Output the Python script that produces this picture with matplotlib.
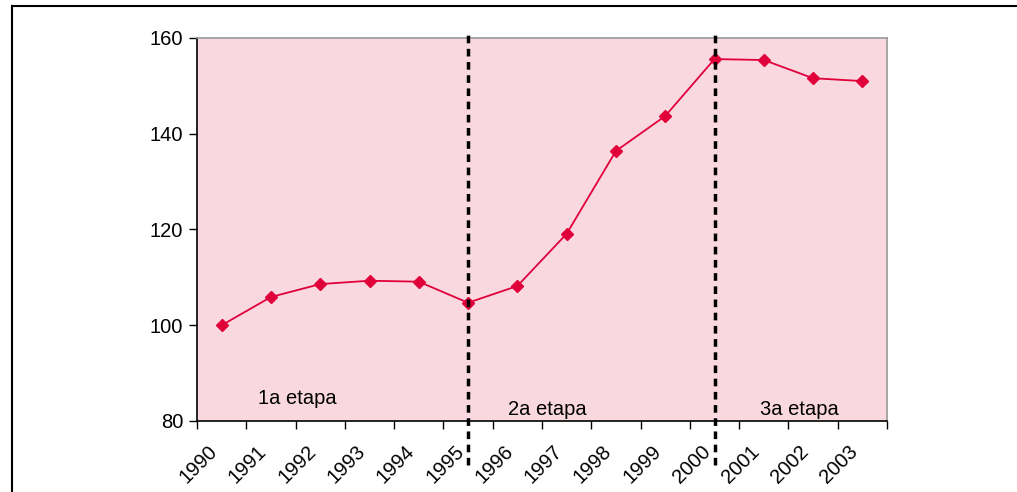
import matplotlib
matplotlib.use("Agg")
import matplotlib.pyplot as plt
from matplotlib.lines import Line2D
import matplotlib.transforms as mtransforms

years = ["1990", "1991", "1992", "1993", "1994", "1995", "1996",
         "1997", "1998", "1999", "2000", "2001", "2002", "2003"]
values = [100.0, 105.9, 108.6, 109.3, 109.1, 104.7, 108.2,
          119.1, 136.4, 143.7, 155.6, 155.4, 151.6, 151.0]
stage_labels = ["1a etapa", "2a etapa", "3a etapa"]
stage_pos = [(2.03, 84.6), (7.1, 82.5), (12.23, 82.5)]
divider_years = ["1995", "2000"]

plt.rcParams['font.family'] = ['Liberation Sans', 'DejaVu Sans']

fig = plt.figure(figsize=(10.17, 4.92), dpi=100)
ax = fig.add_axes([197/1017, 1-421/492, 690/1017, 383/492])
ax.set_facecolor('#F9D8E0')

xs = [i + 0.5 for i in range(len(years))]
ax.plot(xs, values, color='#E0003A', lw=1.3, marker='D', ms=6.5,
        mec='#E0003A', mfc='#E0003A', zorder=3)

ax.set_xlim(0, len(years))
ax.set_ylim(80, 160)
ax.set_yticks([80, 100, 120, 140, 160])
ax.tick_params(axis='y', direction='out', length=6, width=1, labelsize=14.5, pad=4)

ax.set_xticks(range(len(years) + 1))
ax.set_xticklabels([])
ax.tick_params(axis='x', which='major', direction='out', length=6, width=1)
ax.set_xticks(xs, minor=True)
ax.set_xticklabels(years, minor=True, fontsize=14.5)
ax.tick_params(axis='x', which='minor', length=0, pad=15)
offset = mtransforms.ScaledTranslation(-14/100, 0, fig.dpi_scale_trans)
for lbl in ax.get_xticklabels(minor=True):
    lbl.set_rotation(45)
    lbl.set_ha('right')
    lbl.set_va('top')
    lbl.set_rotation_mode('anchor')
    lbl.set_transform(lbl.get_transform() + offset)

for s in ['top', 'right']:
    ax.spines[s].set_color('#999999')
    ax.spines[s].set_linewidth(1.2)
for s in ['left', 'bottom']:
    ax.spines[s].set_color('black')
    ax.spines[s].set_linewidth(1.2)

for dy in divider_years:
    xi = years.index(dy) + 0.5
    ax.axvline(xi, ymin=-0.115, ymax=1.008, color='black', lw=2.5,
               ls=(0, (2.2, 1.6)), clip_on=False, zorder=4)

for txt, (x, y) in zip(stage_labels, stage_pos):
    ax.text(x, y, txt, ha='center', va='center', fontsize=14.5, color='black')

fig.add_artist(Line2D([12/1017, 12/1017], [0, 1-6/492], color='black', lw=1.5,
                      transform=fig.transFigure))
fig.add_artist(Line2D([12/1017, 1], [1-6/492, 1-6/492], color='black', lw=1.5,
                      transform=fig.transFigure))

fig.savefig('out.png', dpi=100)
